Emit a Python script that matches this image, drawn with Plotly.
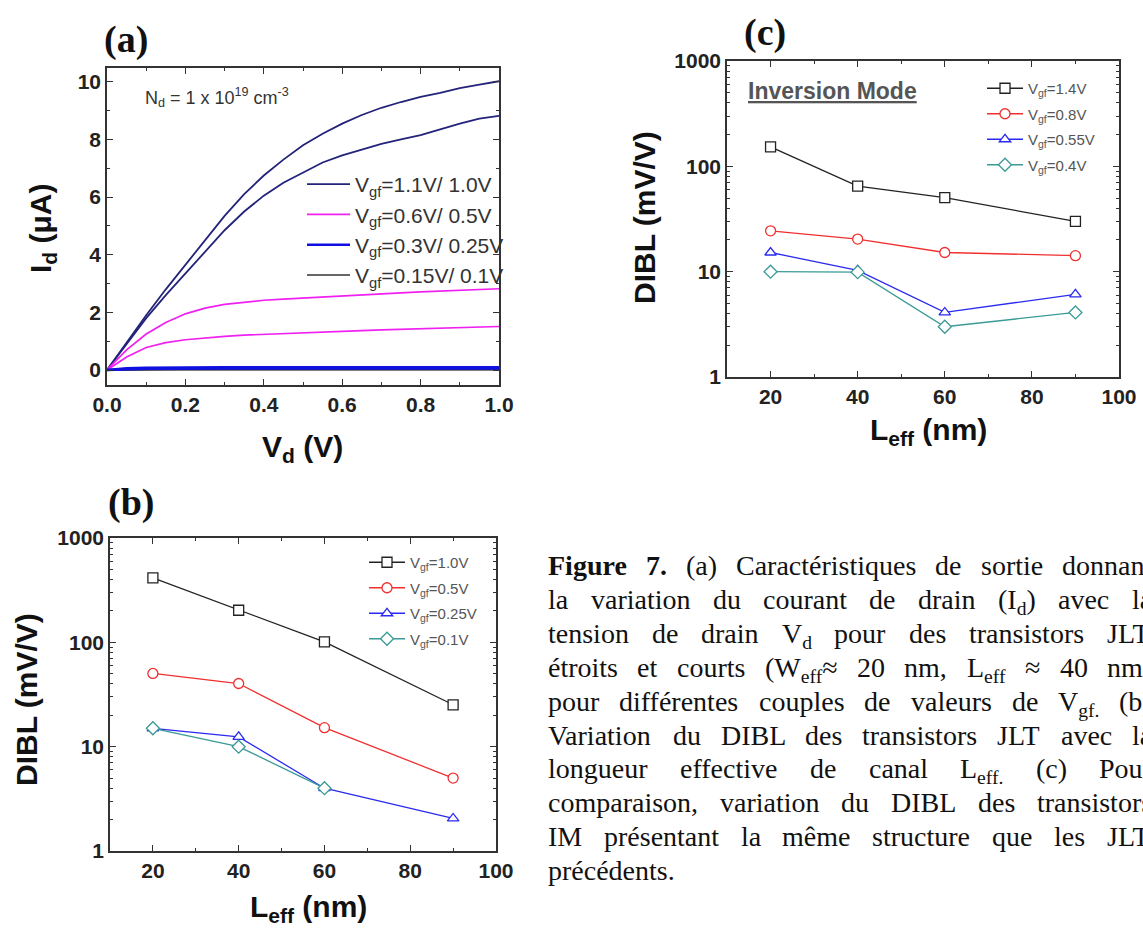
import re
import plotly.graph_objects as go

W, H = 1143, 934
SANS = "Liberation Sans, Arial, sans-serif"
SERIF = "Liberation Serif, Times New Roman, serif"

# ---------------- data : panel (a) -----------------
Vd = [0.0, 0.05, 0.1, 0.15, 0.2, 0.25, 0.3, 0.35, 0.4, 0.45, 0.5,
      0.55, 0.6, 0.65, 0.7, 0.75, 0.8, 0.85, 0.9, 0.95, 1.0]
Id_11 = [0.0, 0.95, 1.9, 2.8, 3.65, 4.5, 5.35, 6.1, 6.75, 7.3, 7.8,
         8.2, 8.55, 8.85, 9.1, 9.3, 9.48, 9.62, 9.78, 9.9, 10.02]
Id_10 = [0.0, 0.9, 1.8, 2.6, 3.35, 4.1, 4.85, 5.5, 6.05, 6.5, 6.85,
         7.2, 7.45, 7.65, 7.85, 8.0, 8.15, 8.35, 8.55, 8.72, 8.82]
Id_06 = [0.0, 0.7, 1.25, 1.65, 1.95, 2.15, 2.28, 2.36, 2.42, 2.46, 2.5,
         2.54, 2.58, 2.62, 2.65, 2.68, 2.71, 2.74, 2.77, 2.8, 2.82]
Id_05 = [0.0, 0.45, 0.78, 0.95, 1.05, 1.12, 1.17, 1.21, 1.24, 1.27, 1.3,
         1.32, 1.35, 1.37, 1.39, 1.41, 1.43, 1.45, 1.47, 1.49, 1.51]
Id_03 = [0.0, 0.06, 0.08, 0.09, 0.09, 0.09, 0.1, 0.1, 0.1, 0.1, 0.1,
         0.1, 0.1, 0.1, 0.1, 0.1, 0.1, 0.1, 0.1, 0.1, 0.1]
Id_025 = [0.0, 0.03, 0.04, 0.04, 0.05, 0.05, 0.05, 0.05, 0.05, 0.05, 0.05,
          0.05, 0.05, 0.05, 0.05, 0.05, 0.05, 0.05, 0.05, 0.05, 0.05]
Id_015 = [0.0, 0.01, 0.02, 0.02, 0.02, 0.02, 0.02, 0.02, 0.02, 0.02, 0.02,
          0.02, 0.02, 0.02, 0.02, 0.02, 0.02, 0.02, 0.02, 0.02, 0.02]
Id_01 = [0.0, 0.01, 0.01, 0.01, 0.01, 0.01, 0.01, 0.01, 0.01, 0.01, 0.01,
         0.01, 0.01, 0.01, 0.01, 0.01, 0.01, 0.01, 0.01, 0.01, 0.01]
legend_a = ["V<sub>gf</sub>=1.1V/ 1.0V", "V<sub>gf</sub>=0.6V/ 0.5V",
            "V<sub>gf</sub>=0.3V/ 0.25V", "V<sub>gf</sub>=0.15V/ 0.1V"]

# ---------------- data : panel (b) -----------------
Leff_b = [20, 40, 60, 90]
Leff_b_short = [20, 40, 60]
dibl_b_10 = [414, 203, 101, 25.2]
dibl_b_05 = [50.3, 40.3, 15.2, 5.0]
dibl_b_025 = [15.0, 12.4, 4.0, 2.05]
dibl_b_01 = [15.0, 10.0, 4.0]
legend_b = ["V<sub>gf</sub>=1.0V", "V<sub>gf</sub>=0.5V",
            "V<sub>gf</sub>=0.25V", "V<sub>gf</sub>=0.1V"]

# ---------------- data : panel (c) -----------------
Leff_c = [20, 40, 60, 90]
dibl_c_14 = [153, 65, 50.5, 30]
dibl_c_08 = [24.4, 20.4, 15.2, 14.2]
dibl_c_055 = [15.2, 10.3, 4.1, 6.1]
dibl_c_04 = [10.0, 9.9, 3.0, 4.1]
legend_c = ["V<sub>gf</sub>=1.4V", "V<sub>gf</sub>=0.8V",
            "V<sub>gf</sub>=0.55V", "V<sub>gf</sub>=0.4V"]

log_major = [1, 10, 100, 1000]
log_minor = [2, 3, 4, 5, 6, 7, 8, 9, 20, 30, 40, 50, 60, 70, 80, 90,
             200, 300, 400, 500, 600, 700, 800, 900]

caption_lines = [
    "<b>Figure</b> <b>7.</b> (a) Caractéristiques de sortie donnant",
    "la variation du courant de drain (I<sub>d</sub>) avec la",
    "tension de drain V<sub>d</sub> pour des transistors JLT",
    "étroits et courts (W<sub>eff</sub>≈ 20 nm, L<sub>eff</sub> ≈ 40 nm)",
    "pour différentes couples de valeurs de V<sub>gf.</sub> (b)",
    "Variation du DIBL des transistors JLT avec la",
    "longueur effective de canal L<sub>eff.</sub> (c) Pour",
    "comparaison, variation du DIBL des transistors",
    "IM présentant la même structure que les JLT",
    "précédents.",
]

# Times metrics (1/1000 em) used to lay out the justified caption
TNR = {' ': 250, '(': 333, ')': 333, ',': 250, '.': 250, '-': 333, '≈': 549,
       'a': 444, 'b': 500, 'c': 444, 'd': 500, 'e': 444, 'f': 333, 'g': 500, 'h': 500,
       'i': 278, 'j': 278, 'k': 500, 'l': 278, 'm': 778, 'n': 500, 'o': 500, 'p': 500,
       'q': 500, 'r': 333, 's': 389, 't': 278, 'u': 500, 'v': 500, 'w': 722, 'x': 500,
       'y': 500, 'z': 444, 'é': 444, 'è': 444, 'ê': 444, 'à': 444,
       'A': 722, 'B': 667, 'C': 667, 'D': 722, 'E': 611, 'F': 556, 'G': 722, 'H': 722,
       'I': 333, 'J': 389, 'K': 722, 'L': 611, 'M': 889, 'N': 722, 'O': 722, 'P': 556,
       'Q': 722, 'R': 667, 'S': 556, 'T': 611, 'U': 722, 'V': 722, 'W': 944}
TNRB = {'F': 611, 'i': 278, 'g': 500, 'u': 556, 'r': 444, 'e': 444, '7': 500, '.': 250}


def word_width(word, size):
    w = 0.0
    scale, bold = 1.0, False
    for tok in re.split(r'(<[^>]+>)', word):
        if tok == '<sub>':
            scale = 0.7
        elif tok == '</sub>':
            scale = 1.0
        elif tok == '<b>':
            bold = True
        elif tok == '</b>':
            bold = False
        else:
            for ch in tok:
                if bold:
                    w += TNRB.get(ch, 500) * scale
                else:
                    w += TNR.get(ch, 500 if ch.isdigit() else 444) * scale
    return w * size / 1000.0


def px(x):
    return x / W


def py(y):
    return 1 - y / H


fig = go.Figure()

# ---- panel (a) traces ----
NAVY = "#23237a"
MAG = "#f020f0"
BLUE = "#1010e0"
DARK = "#333333"
pairs = [(Id_11, Id_10, NAVY, 1.8), (Id_06, Id_05, MAG, 1.7),
         (Id_03, Id_025, BLUE, 2.5), (Id_015, Id_01, DARK, 1.6)]
order = [3, 0, 1, 2]
for k in order:
    y1, y2, col, lw = pairs[k]
    fig.add_trace(go.Scatter(x=Vd, y=y1, mode="lines", line=dict(color=col, width=lw),
                             name=legend_a[k], legend="legend", legendrank=k,
                             legendgroup="a%d" % k, xaxis="x", yaxis="y"))
    fig.add_trace(go.Scatter(x=Vd, y=y2, mode="lines", line=dict(color=col, width=lw),
                             showlegend=False, xaxis="x", yaxis="y"))

# ---- panel (b) traces ----
specs_b = [(Leff_b, dibl_b_10, "#222222", "square"),
           (Leff_b, dibl_b_05, "#f03030", "circle"),
           (Leff_b, dibl_b_025, "#2a2af0", "triangle-up"),
           (Leff_b_short, dibl_b_01, "#3a9a96", "diamond")]
for i, (xx, yy, col, sym) in enumerate(specs_b):
    fig.add_trace(go.Scatter(x=xx, y=yy, mode="lines+markers",
                             line=dict(color=col, width=1.3),
                             marker=dict(symbol=sym, size=10, color="white",
                                         line=dict(color=col, width=1.3)),
                             name=legend_b[i], legend="legend2", legendgroup="b%d" % i,
                             xaxis="x2", yaxis="y2"))

# ---- panel (c) traces ----
specs_c = [(Leff_c, dibl_c_14, "#222222", "square"),
           (Leff_c, dibl_c_08, "#f03030", "circle"),
           (Leff_c, dibl_c_055, "#2a2af0", "triangle-up"),
           (Leff_c, dibl_c_04, "#3a9a96", "diamond")]
for i, (xx, yy, col, sym) in enumerate(specs_c):
    fig.add_trace(go.Scatter(x=xx, y=yy, mode="lines+markers",
                             line=dict(color=col, width=1.3),
                             marker=dict(symbol=sym, size=10, color="white",
                                         line=dict(color=col, width=1.3)),
                             name=legend_c[i], legend="legend3", legendgroup="c%d" % i,
                             xaxis="x3", yaxis="y3"))

AX = dict(showline=True, linecolor="#333333", linewidth=1.6, mirror="ticks",
          ticks="inside", ticklen=6, tickwidth=1.3, tickcolor="#333333",
          showgrid=False, zeroline=False, automargin=False,
          tickfont=dict(family=SANS, size=21, color="#222222", weight="bold"))
MINOR = dict(ticks="inside", ticklen=3, tickwidth=1.1, tickcolor="#333333", showgrid=False)

fig.update_layout(
    width=W, height=H, margin=dict(l=0, r=0, t=0, b=0, pad=0, autoexpand=False),
    paper_bgcolor="white", plot_bgcolor="white",
    xaxis=dict(AX, domain=[px(107), px(499)], range=[0, 1.0], anchor="y",
               tickvals=[0, 0.2, 0.4, 0.6, 0.8, 1.0], tickformat=".1f",
               minor=dict(MINOR, tickvals=[0.1, 0.3, 0.5, 0.7, 0.9])),
    yaxis=dict(AX, domain=[py(385), py(68)], range=[-0.52, 10.48], anchor="x",
               tickvals=[0, 2, 4, 6, 8, 10],
               minor=dict(MINOR, tickvals=[1, 3, 5, 7, 9])),
    xaxis2=dict(AX, domain=[px(110), px(496)], range=[10, 100], anchor="y2",
                tickvals=[20, 40, 60, 80, 100],
                minor=dict(MINOR, tickvals=[30, 50, 70, 90])),
    yaxis2=dict(AX, domain=[py(851), py(538)], type="log", range=[0, 3], anchor="x2",
                tickvals=log_major, ticktext=[str(v) for v in log_major],
                minor=dict(MINOR, tickvals=log_minor)),
    xaxis3=dict(AX, domain=[px(727), px(1119)], range=[10, 100], anchor="y3",
                tickvals=[20, 40, 60, 80, 100],
                minor=dict(MINOR, tickvals=[30, 50, 70, 90])),
    yaxis3=dict(AX, domain=[py(377), py(61)], type="log", range=[0, 3], anchor="x3",
                tickvals=log_major, ticktext=[str(v) for v in log_major],
                minor=dict(MINOR, tickvals=log_minor)),
    legend=dict(x=px(302), y=py(164), xanchor="left", yanchor="top",
                bgcolor="rgba(0,0,0,0)", itemwidth=43, tracegroupgap=0,
                font=dict(family=SANS, size=21, color="#333333")),
    legend2=dict(x=px(364), y=py(546), xanchor="left", yanchor="top",
                 bgcolor="rgba(0,0,0,0)", itemwidth=36, tracegroupgap=3,
                 font=dict(family=SANS, size=15, color="#555555")),
    legend3=dict(x=px(982), y=py(72), xanchor="left", yanchor="top",
                 bgcolor="rgba(0,0,0,0)", itemwidth=36, tracegroupgap=3,
                 font=dict(family=SANS, size=15, color="#555555")),
    showlegend=True,
)

ann = []


def add_text(x, y, text, size, family=SANS, bold=True, angle=0, xanchor="center",
             yanchor="middle", color="#111111"):
    ann.append(dict(x=px(x), y=py(y), xref="paper", yref="paper", text=text,
                    showarrow=False, textangle=angle, xanchor=xanchor, yanchor=yanchor,
                    borderpad=0, borderwidth=0,
                    font=dict(family=family, size=size, color=color,
                              weight="bold" if bold else "normal")))


# panel labels
add_text(126, 40, "(a)", 38, family=SERIF)
add_text(131, 503, "(b)", 38, family=SERIF)
add_text(765, 32, "(c)", 38, family=SERIF)

# axis titles
add_text(42, 228, "I<sub>d</sub> (μA)", 30, angle=-90)
add_text(302, 448, "V<sub>d</sub> (V)", 30)
add_text(26, 700, "DIBL (mV/V)", 30, angle=-90)
add_text(308, 908, "L<sub>eff</sub> (nm)", 30)
add_text(644, 218, "DIBL (mV/V)", 30, angle=-90)
add_text(928, 432, "L<sub>eff</sub> (nm)", 30)

# in-plot texts
add_text(145, 97, "N<sub>d</sub> = 1 x 10<sup>19</sup> cm<sup>-3</sup>", 18, bold=False,
         xanchor="left", color="#333333")
add_text(748, 91, "<u>Inversion Mode</u>", 23, xanchor="left", color="#555555")

# caption: justified text, one word at a time
CAP_SIZE = 28
CAP_L, CAP_R = 548, 1152
for i, line in enumerate(caption_lines):
    words = line.split(" ")
    widths = [word_width(w_, CAP_SIZE) for w_ in words]
    if i < len(caption_lines) - 1 and len(words) > 1:
        gap = (CAP_R - CAP_L - sum(widths)) / (len(words) - 1)
    else:
        gap = 0.25 * CAP_SIZE
    xcur = CAP_L
    ytop = 566 + i * 33.9 - 16
    for w_, wd in zip(words, widths):
        add_text(xcur, ytop, w_, CAP_SIZE, family=SERIF, bold=False, xanchor="left",
                 yanchor="top", color="#111111")
        xcur += wd + gap

fig.update_layout(annotations=ann)
fig.write_html("out.html", config={"displayModeBar": False},
               post_script="document.body.style.margin='0';document.body.style.padding='0';"
                           "document.body.style.overflow='hidden';")
